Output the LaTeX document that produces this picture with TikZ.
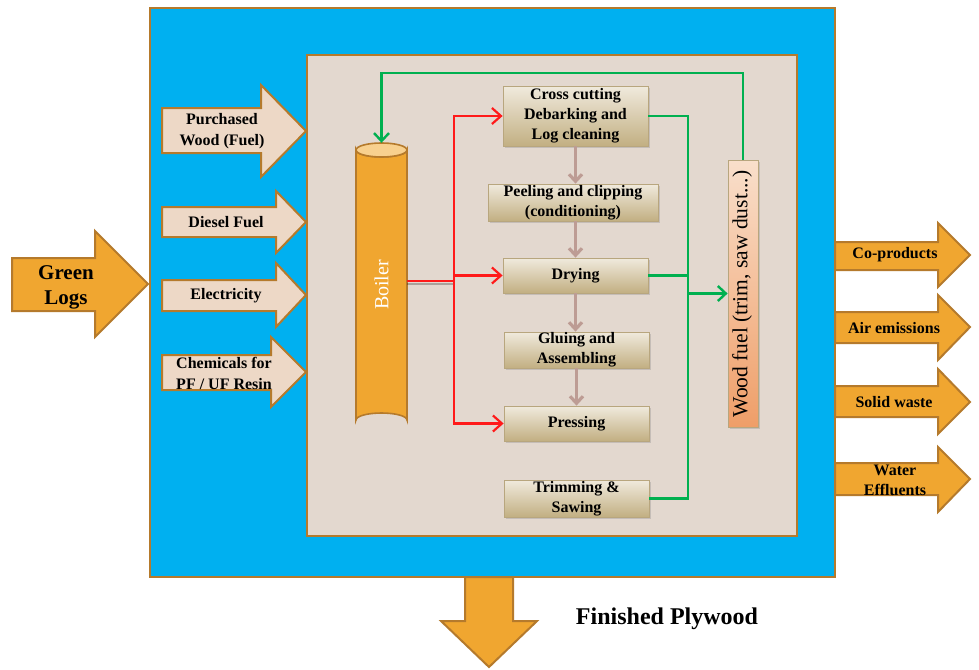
\documentclass[tikz,border=0pt]{standalone}
\usepackage{fontspec}
\setmainfont{Liberation Serif}
\usetikzlibrary{arrows.meta,shadows}
\definecolor{bluebg}{HTML}{00B0F0}
\definecolor{brownb}{HTML}{B57A2C}
\definecolor{beige}{HTML}{E3D8CF}
\definecolor{peach}{HTML}{EDD8C6}
\definecolor{orng}{HTML}{F0A630}
\definecolor{grn}{HTML}{00B050}
\definecolor{rd}{HTML}{FF1A1A}
\definecolor{rosy}{HTML}{BD9C94}
\definecolor{boxtop}{HTML}{F0EADD}
\definecolor{boxbot}{HTML}{C2AF82}
\definecolor{boxedge}{HTML}{B8A67E}
\definecolor{wftop}{HTML}{F9DFCB}
\definecolor{wfbot}{HTML}{EF9E68}
\definecolor{boiltop}{HTML}{F8D08E}
\begin{document}
\begin{tikzpicture}[x=1pt,y=-1pt,
  blockarrow/.style={draw=brownb, line width=2pt, line join=miter},
  inarrow/.style={blockarrow, fill=peach},
  outarrow/.style={blockarrow, fill=orng},
  lbl/.style={font=\bfseries\fontsize{16}{21}\selectfont, align=center, inner sep=0pt},
  procbox/.style={draw=boxedge, line width=0.8pt, top color=boxtop, bottom color=boxbot, inner sep=0pt, align=center,
     font=\bfseries\fontsize{16}{20}\selectfont, drop shadow={opacity=0.3, shadow xshift=2pt, shadow yshift=-2pt}},
  redarr/.style={draw=rd, line width=2.2pt, -{Straight Barb[length=9pt,width=16pt]}},
  redline/.style={draw=rd, line width=2.2pt},
  grnline/.style={draw=grn, line width=2.4pt},
  grnarr/.style={draw=grn, line width=2.4pt, -{Straight Barb[length=8pt,width=15pt]}},
  rosyarr/.style={draw=rosy, line width=3.2pt, -{Straight Barb[length=7pt,width=13pt]}}
]
\useasboundingbox (0,0) rectangle (979,669);
\fill[white] (0,0) rectangle (979,669);

% outer and inner frames
\draw[fill=bluebg, draw=brownb, line width=2pt] (150,8) rectangle (835,577);
\draw[fill=beige, draw=brownb, line width=2pt] (307,55) rectangle (797,536);

% Green logs input
\draw[outarrow] (12,258)--(95,258)--(95,231)--(148,284)--(95,337)--(95,311)--(12,311)--cycle;
\node[lbl, font=\bfseries\fontsize{21}{25}\selectfont] (glogs) at (66,287) {Green\\Logs};

% input arrows
\draw[inarrow] (162,108)--(261,108)--(261,85)--(306,131)--(261,177)--(261,153)--(162,153)--cycle;
\draw[inarrow] (162,207)--(276,207)--(276,191)--(306,222)--(276,253)--(276,237)--(162,237)--cycle;
\draw[inarrow] (162,280)--(276,280)--(276,263)--(306,295)--(276,327)--(276,311)--(162,311)--cycle;
\draw[inarrow] (162,355)--(271,355)--(271,337)--(306,372)--(271,407)--(271,390)--(162,390)--cycle;
\node[lbl] (lpw) at (222,131) {Purchased\\Wood (Fuel)};
\node[lbl] (ldf) at (226,222) {Diesel Fuel};
\node[lbl] (lel) at (226,296) {Electricity};
\node[lbl] (lch) at (224,373) {Chemicals for\\PF / UF Resin};

% output arrows
\draw[outarrow] (835,242)--(938,242)--(938,223)--(970,255)--(938,287)--(938,270)--(835,270)--cycle;
\draw[outarrow] (835,312)--(938,312)--(938,295)--(970,327)--(938,360)--(938,343)--(835,343)--cycle;
\draw[outarrow] (835,386)--(938,386)--(938,369)--(970,402)--(938,434)--(938,417)--(835,417)--cycle;
\draw[outarrow] (835,463)--(938,463)--(938,447)--(970,479)--(938,512)--(938,495)--(835,495)--cycle;
\node[lbl] (lco) at (895,255) {Co-products};
\node[lbl] (lair) at (894,328) {Air emissions};
\node[lbl] (lsw) at (894,402) {Solid waste};
\node[lbl, font=\bfseries\fontsize{16}{20}\selectfont] (lwe) at (895,480) {Water\\Effluents};

% bottom output
\draw[outarrow] (465,577)--(513,577)--(513,621)--(537,621)--(489,667)--(441,621)--(465,621)--cycle;
\node[lbl, font=\bfseries\fontsize{24}{28}\selectfont] (lfp) at (667,619) {Finished Plywood};

% boiler
\draw[fill=orng, draw=brownb, line width=1.6pt] (356,150) -- (356,420) arc[start angle=180, end angle=360, x radius=25.5, y radius=7] -- (407,150) arc[start angle=0, end angle=180, x radius=25.5, y radius=7] -- cycle;
\draw[fill=boiltop, draw=brownb, line width=1.6pt] (381.5,150) ellipse[x radius=25.5, y radius=7];
\node[inner sep=0pt, minimum width=51pt, minimum height=278pt] (boiler) at (381.5,281) {};
\node[rotate=90, text=white, font=\fontsize{20}{24}\selectfont, inner sep=0pt] (lboiler) at (381.5,285) {Boiler};

% process boxes
\node[procbox, minimum width=145pt, minimum height=60pt] (cc) at (575.5,116) {Cross cutting\\Debarking and\\Log cleaning};
\node[procbox, minimum width=170pt, minimum height=37pt] (peel) at (573,202.5) {Peeling and clipping\\(conditioning)};
\node[procbox, minimum width=145pt, minimum height=35pt] (dry) at (575.5,275.5) {Drying};
\node[procbox, minimum width=145pt, minimum height=36pt] (glue) at (576.5,350) {Gluing and\\Assembling};
\node[procbox, minimum width=145pt, minimum height=35pt] (press) at (576.5,423.5) {Pressing};
\node[procbox, minimum width=145pt, minimum height=37pt] (trim) at (576.5,498.5) {Trimming \&\\Sawing};

% wood fuel box
\node[draw=boxedge, line width=0.8pt, top color=wftop, bottom color=wfbot, inner sep=0pt,
      minimum width=30pt, minimum height=267pt,
      drop shadow={opacity=0.3, shadow xshift=2pt, shadow yshift=-2pt}] (wf) at (743,293.5) {};
\node[rotate=90, font=\fontsize{21.5}{25}\selectfont, inner sep=0pt] (lwf) at (742,294) {Wood fuel (trim, saw dust...)};

% rosy flow arrows
\draw[rosyarr] (cc.south) -- (cc.south |- peel.north);
\draw[rosyarr] (peel.south -| dry.north) -- (dry.north);
\draw[rosyarr] (dry.south) -- (dry.south |- glue.north);
\draw[rosyarr] (glue.south) -- (press.north);

% red steam lines
\coordinate (rj) at (454,281);
\draw[black, opacity=0.25, line width=2.5pt] ([yshift=-3pt]boiler.east) -- ([yshift=-3pt]rj);
\draw[redline] (boiler.east) -- (rj);
\draw[redarr] (rj) |- (cc.west);
\draw[redarr] (rj) |- (dry.west);
\draw[redarr] (rj) |- (press.west);

% green wood fuel lines
\coordinate (gt) at (688,116);
\coordinate (gb) at (688,498.5);
\draw[grnline] (cc.east) -- (gt) -- (gb) -- (trim.east);
\draw[grnline] (dry.east) -- (dry.east -| gt);
\draw[grnarr] (gt |- wf.west) -- (wf.west);
\coordinate (gtop) at (743,73);
\draw[grnarr] (wf.north) -- (gtop) -| ([yshift=-1pt]boiler.north);
\end{tikzpicture}
\end{document}
